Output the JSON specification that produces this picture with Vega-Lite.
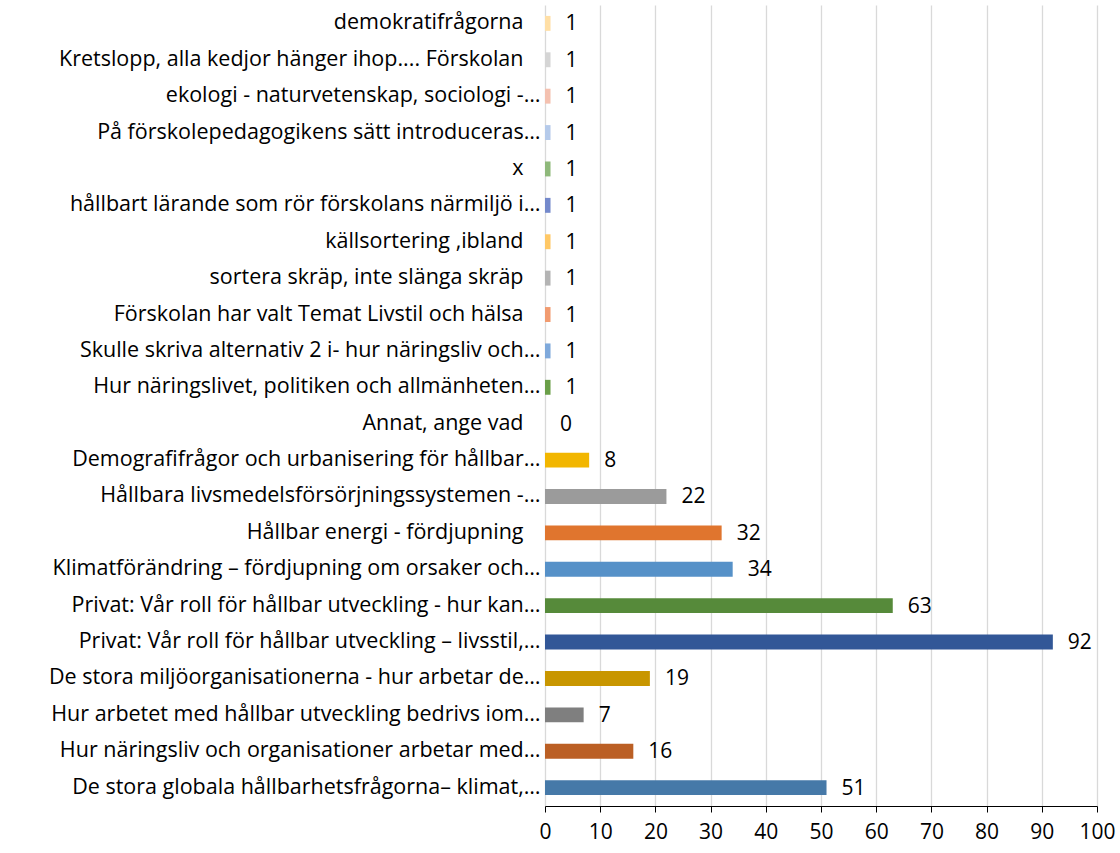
{
  "$schema": "https://vega.github.io/schema/vega-lite/v6.json",
  "autosize": "none",
  "width": 552,
  "height": 801,
  "padding": {"left": 545, "top": 5, "right": 23, "bottom": 47},
  "background": "white",
  "config": {"view": {"stroke": null}, "font": "Open Sans"},
  "data": {"values": [
    {"cat": "demokratifrågorna", "v": 1},
    {"cat": "Kretslopp, alla kedjor hänger ihop.... Förskolan", "v": 1},
    {"cat": "ekologi - naturvetenskap, sociologi -…", "v": 1},
    {"cat": "På förskolepedagogikens sätt introduceras…", "v": 1},
    {"cat": "x", "v": 1},
    {"cat": "hållbart lärande som rör förskolans närmiljö i…", "v": 1},
    {"cat": "källsortering ,ibland", "v": 1},
    {"cat": "sortera skräp, inte slänga skräp", "v": 1},
    {"cat": "Förskolan har valt Temat Livstil och hälsa", "v": 1},
    {"cat": "Skulle skriva alternativ 2 i- hur näringsliv och…", "v": 1},
    {"cat": "Hur näringslivet, politiken och allmänheten…", "v": 1},
    {"cat": "Annat, ange vad", "v": 0},
    {"cat": "Demografifrågor och urbanisering för hållbar…", "v": 8},
    {"cat": "Hållbara livsmedelsförsörjningssystemen -…", "v": 22},
    {"cat": "Hållbar energi - fördjupning", "v": 32},
    {"cat": "Klimatförändring – fördjupning om orsaker och…", "v": 34},
    {"cat": "Privat: Vår roll för  hållbar utveckling - hur kan…", "v": 63},
    {"cat": "Privat: Vår roll för hållbar utveckling – livsstil,…", "v": 92},
    {"cat": "De stora miljöorganisationerna - hur arbetar de…", "v": 19},
    {"cat": "Hur arbetet med hållbar utveckling bedrivs iom…", "v": 7},
    {"cat": "Hur näringsliv och organisationer arbetar med…", "v": 16},
    {"cat": "De stora globala hållbarhetsfrågorna– klimat,…", "v": 51}
  ]},
  "encoding": {
    "y": {
      "field": "cat", "type": "nominal", "sort": null,
      "scale": {"paddingInner": 0.59, "paddingOuter": 0.3},
      "axis": {"title": null, "domain": false, "ticks": false, "labelFontSize": 21.5, "labelColor": "#000000", "labelLimit": 545,
        "labelPadding": {"condition": {"test": "indexof(datum.label, '…') >= 0", "value": 5}, "value": 22}}
    },
    "x": {
      "field": "v", "type": "quantitative",
      "scale": {"domain": [0, 100], "nice": false},
      "axis": {"title": null, "values": [0,10,20,30,40,50,60,70,80,90,100], "grid": true, "gridColor": "#D9D9D9", "gridWidth": 1.3, "domainColor": "#000000", "domainWidth": 1, "tickColor": "#000000", "tickSize": 6, "labelFontSize": 21, "labelColor": "#000000", "labelPadding": 9, "labelFlush": false}
    }
  },
  "layer": [
    {
      "mark": {"type": "bar"},
      "encoding": {
        "color": {
          "field": "cat", "type": "nominal", "legend": null,
          "scale": {
            "domain": ["demokratifrågorna", "Kretslopp, alla kedjor hänger ihop.... Förskolan", "ekologi - naturvetenskap, sociologi -…", "På förskolepedagogikens sätt introduceras…", "x", "hållbart lärande som rör förskolans närmiljö i…", "källsortering ,ibland", "sortera skräp, inte slänga skräp", "Förskolan har valt Temat Livstil och hälsa", "Skulle skriva alternativ 2 i- hur näringsliv och…", "Hur näringslivet, politiken och allmänheten…", "Annat, ange vad", "Demografifrågor och urbanisering för hållbar…", "Hållbara livsmedelsförsörjningssystemen -…", "Hållbar energi - fördjupning", "Klimatförändring – fördjupning om orsaker och…", "Privat: Vår roll för  hållbar utveckling - hur kan…", "Privat: Vår roll för hållbar utveckling – livsstil,…", "De stora miljöorganisationerna - hur arbetar de…", "Hur arbetet med hållbar utveckling bedrivs iom…", "Hur näringsliv och organisationer arbetar med…", "De stora globala hållbarhetsfrågorna– klimat,…"],
            "range": ["#FFDFA6", "#D5D5D5", "#F4C1B0", "#B5CAEA", "#8FB97B", "#7489CB", "#FFC866", "#B4B4B4", "#F19B70", "#7FA9DB", "#6A9F48", "#5B9BD5", "#F2B600", "#9B9B9B", "#E0752E", "#5691C8", "#568A3A", "#325797", "#C89600", "#7F7F7F", "#BB5F24", "#4679A8"]
          }
        }
      }
    },
    {
      "mark": {"type": "text", "align": "left", "baseline": "middle", "dx": 15, "dy": 1, "fontSize": 21, "color": "#000000"},
      "encoding": {"text": {"field": "v", "type": "quantitative"}}
    }
  ]
}
